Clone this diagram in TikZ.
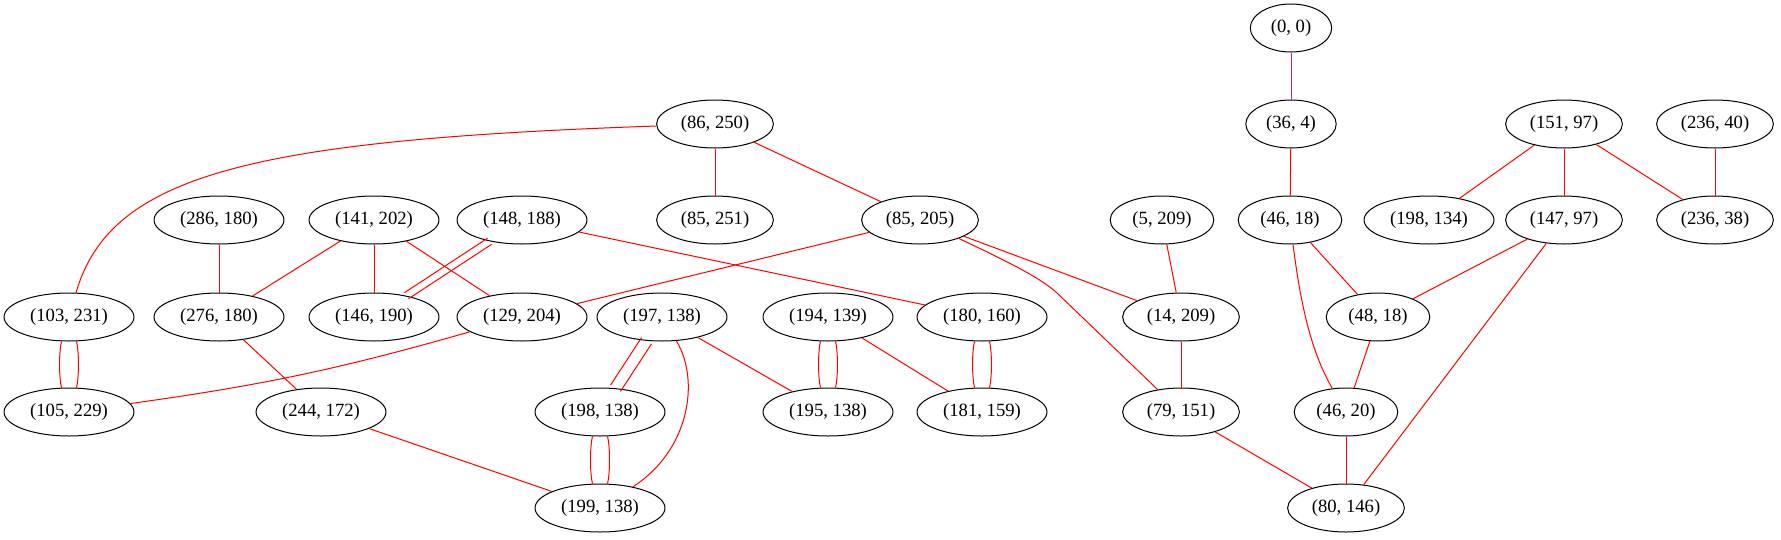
\documentclass[tikz,border=0pt]{standalone}
\usepackage{fontspec}
\setmainfont{Liberation Serif}
\usetikzlibrary{shapes.geometric}
\definecolor{gvpurple}{RGB}{160,32,240}
\definecolor{gvred}{RGB}{255,0,0}
\tikzset{
  gnode/.style={ellipse, draw=black, line width=0.75pt, inner xsep=5.3pt, inner ysep=1pt,
    minimum width=61pt, minimum height=36pt, font=\fontsize{14pt}{16pt}\selectfont},
  edge/.style={draw=gvred, line width=0.75pt},
  pedge/.style={draw=gvpurple, line width=0.75pt},
  bl/.style={bend left=17, looseness=0.5},
  br/.style={bend right=17, looseness=0.5}
}
\begin{document}
\begin{tikzpicture}[x=0.75pt, y=-0.75pt]
\useasboundingbox (0,0) rectangle (1781,539);
% nodes
\node[gnode] (nA) at (1291,28) {(0, 0)};
\node[gnode] (nB) at (1291,124) {(36, 4)};
\node[gnode] (nC) at (715,124) {(86, 250)};
\node[gnode] (nD) at (1564,124) {(151, 97)};
\node[gnode] (nE) at (1715,124) {(236, 40)};
\node[gnode] (nF) at (219,220) {(286, 180)};
\node[gnode] (nG) at (374,220) {(141, 202)};
\node[gnode] (nH) at (522,220) {(148, 188)};
\node[gnode] (nI) at (715,220) {(85, 251)};
\node[gnode] (nJ) at (920,220) {(85, 205)};
\node[gnode] (nK) at (1162,220) {(5, 209)};
\node[gnode] (nL) at (1290,220) {(46, 18)};
\node[gnode] (nM) at (1429,220) {(198, 134)};
\node[gnode] (nN) at (1564,220) {(147, 97)};
\node[gnode] (nO) at (1715,220) {(236, 38)};
\node[gnode] (nP) at (69,317) {(103, 231)};
\node[gnode] (nQ) at (219,317) {(276, 180)};
\node[gnode] (nR) at (374,317) {(146, 190)};
\node[gnode] (nS) at (522,317) {(129, 204)};
\node[gnode] (nT) at (662,317) {(197, 138)};
\node[gnode] (nU) at (828,317) {(194, 139)};
\node[gnode] (nV) at (982,317) {(180, 160)};
\node[gnode] (nW) at (1181,317) {(14, 209)};
\node[gnode] (nX) at (1378,317) {(48, 18)};
\node[gnode] (nY) at (69,412) {(105, 229)};
\node[gnode] (nZ) at (321,412) {(244, 172)};
\node[gnode] (nAA) at (600,412) {(198, 138)};
\node[gnode] (nAB) at (828,412) {(195, 138)};
\node[gnode] (nAC) at (982,412) {(181, 159)};
\node[gnode] (nAD) at (1181,412) {(79, 151)};
\node[gnode] (nAE) at (1346,412) {(46, 20)};
\node[gnode] (nAF) at (600,508) {(199, 138)};
\node[gnode] (nAG) at (1346,508) {(80, 146)};
\coordinate (kink) at (1057,293);
% edges
\draw[pedge] (nA) -- (nB);
\draw[edge] (nB) -- (nL);
\draw[edge] (nL) -- (nX);
\draw[edge] (nL) .. controls (1300,300) and (1310,350) .. (nAE);
\draw[edge] (nX) -- (nAE);
\draw[edge] (nAE) -- (nAG);
\draw[edge] (nD) -- (nM);
\draw[edge] (nD) -- (nN);
\draw[edge] (nD) -- (nO);
\draw[edge] (nE) -- (nO);
\draw[edge] (nN) -- (nX);
\draw[edge] (nN) -- (nAG);
\draw[edge] (nC) .. controls (250,140) and (110,175) .. (nP);
\draw[edge] (nC) -- (nI);
\draw[edge] (nC) -- (nJ);
\draw[edge] (nJ) -- (nS);
\draw[edge] (nJ) -- (nW);
\draw[edge] (nJ) .. controls (1000,258) and (1040,277) .. (kink) -- (nAD);
\draw[edge] (nK) -- (nW);
\draw[edge] (nW) -- (nAD);
\draw[edge] (nAD) -- (nAG);
\draw[edge] (nF) -- (nQ);
\draw[edge] (nG) -- (nQ);
\draw[edge] (nG) -- (nR);
\draw[edge] (nG) -- (nS);
\draw[edge, transform canvas={shift={(1.5pt,-2.3pt)}}] (nH) -- (nR);
\draw[edge, transform canvas={shift={(-1.5pt,2.3pt)}}] (nH) -- (nR);
\draw[edge] (nH) -- (nV);
\draw[edge] (nP) to[bl] (nY) (nP) to[br] (nY);
\draw[edge] (nS) to[bend left=4] (nY);
\draw[edge] (nQ) -- (nZ);
\draw[edge] (nZ) -- (nAF);
\draw[edge, transform canvas={shift={(3.7pt,-2.4pt)}}] (nT) -- (nAA);
\draw[edge, transform canvas={shift={(-3.7pt,2.4pt)}}] (nT) -- (nAA);
\draw[edge] (nT) .. controls (700,380) and (690,450) .. (nAF);
\draw[edge] (nT) -- (nAB);
\draw[edge] (nAA) to[bl] (nAF) (nAA) to[br] (nAF);
\draw[edge] (nU) to[bl] (nAB) (nU) to[br] (nAB);
\draw[edge] (nU) -- (nAC);
\draw[edge] (nV) to[bl] (nAC) (nV) to[br] (nAC);
\end{tikzpicture}
\end{document}
